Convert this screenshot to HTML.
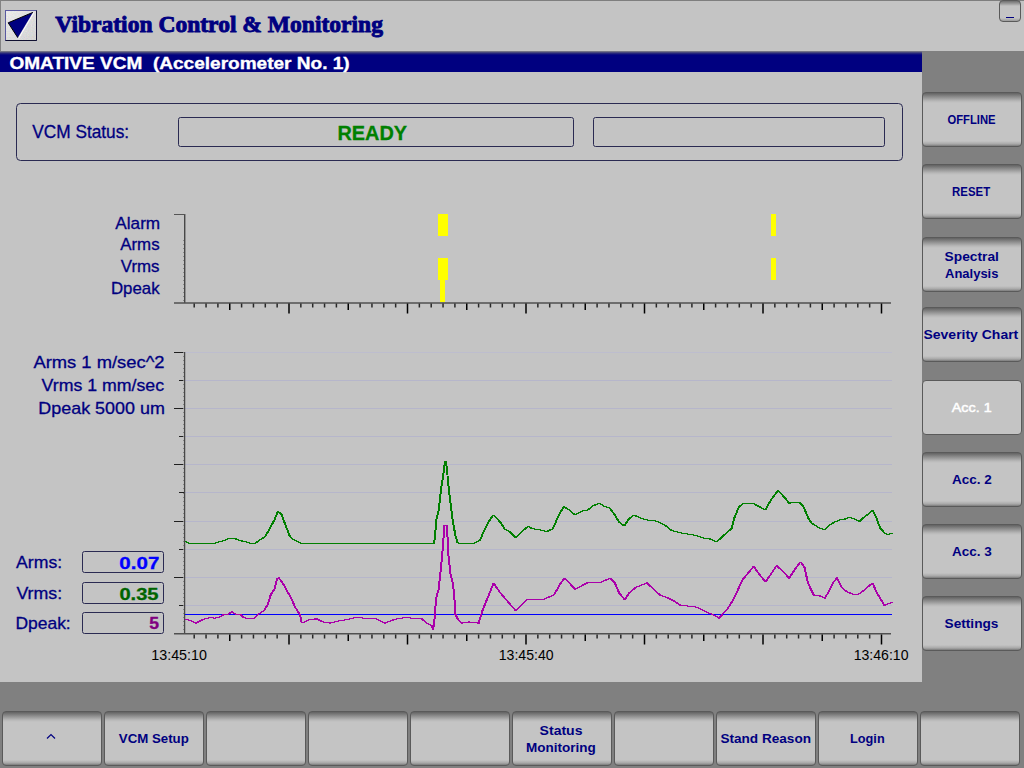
<!DOCTYPE html>
<html><head><meta charset="utf-8">
<style>
*{margin:0;padding:0;box-sizing:border-box}
html,body{width:1024px;height:768px;overflow:hidden;background:#808080;font-family:"Liberation Sans",sans-serif}
.a{position:absolute}
#hdr{left:0;top:0;width:1024px;height:51px;background:#c4c4c4;border-top:1px solid #7e7e7e;border-left:1px solid #828282}
#bar{left:0;top:51px;width:922px;height:21px;background:linear-gradient(#8a8a8a 0,#30307a 2px,#000080 4px,#000080 100%)}
#main{left:0;top:72px;width:922px;height:610px;background:#c4c4c4}
.btn{position:absolute;width:100px;height:55px;border:1px solid #5a5a5a;border-radius:4px;
 background:linear-gradient(#626262 0,#8e8e8e 4px,#b8b8b8 8px,#c4c4c4 10px,#c4c4c4 calc(100% - 5px),#a8a8a8 calc(100% - 2px),#7a7a7a 100%)}
.btn.sel{background:#c4c4c4}
#minb{left:999px;top:0;width:22px;height:22px;border:1px solid #5a5a5a;border-radius:4px;
 background:linear-gradient(#707070 0,#a0a0a0 3px,#c4c4c4 5px,#c4c4c4 calc(100% - 3px),#9a9a9a 100%)}
svg{position:absolute;left:0;top:0}
</style></head><body>
<div id="hdr" class="a"></div>
<div id="bar" class="a"></div>
<div id="main" class="a"></div>
<div id="minb" class="a"></div>
<div class="btn" style="left:922px;top:92px"></div>
<div class="btn" style="left:922px;top:164px"></div>
<div class="btn" style="left:922px;top:237px"></div>
<div class="btn" style="left:922px;top:307px"></div>
<div class="btn sel" style="left:922px;top:380px"></div>
<div class="btn" style="left:922px;top:452px"></div>
<div class="btn" style="left:922px;top:524px"></div>
<div class="btn" style="left:922px;top:596px"></div>
<div class="btn" style="left:2px;top:711px"></div>
<div class="btn" style="left:104px;top:711px"></div>
<div class="btn" style="left:206px;top:711px"></div>
<div class="btn" style="left:308px;top:711px"></div>
<div class="btn" style="left:410px;top:711px"></div>
<div class="btn" style="left:512px;top:711px"></div>
<div class="btn" style="left:614px;top:711px"></div>
<div class="btn" style="left:716px;top:711px"></div>
<div class="btn" style="left:818px;top:711px"></div>
<div class="btn" style="left:920px;top:711px"></div>
<svg width="1024" height="768" viewBox="0 0 1024 768">
<defs>
<linearGradient id="lg" x1="0" y1="0" x2="1" y2="1">
<stop offset="0" stop-color="#f4f4f4"/><stop offset="0.5" stop-color="#dcdcdc"/><stop offset="1" stop-color="#c8c8c8"/>
</linearGradient>
<filter id="nz" x="0" y="0" width="100%" height="100%">
<feTurbulence type="fractalNoise" baseFrequency="0.8" numOctaves="2" seed="3"/>
<feColorMatrix type="matrix" values="0.5 0 0 0 0.5  0 0.5 0 0 0.5  0 0 0.5 0 0.5  0 0 0 0 0.45"/>
</filter>
</defs>
<!-- logo -->
<rect x="5.5" y="10.5" width="31" height="30" fill="url(#lg)" stroke="#5a5aa0" stroke-width="1"/>
<rect x="6" y="11" width="30" height="29" filter="url(#nz)"/>
<path d="M36.5 10.5 V40.5 H5.5" fill="none" stroke="#101030" stroke-width="1"/>
<polygon points="8.2,22.8 32.9,12.4 17.8,37.7" fill="#000080"/>
<polyline points="32.9,12.4 8.2,22.8 17.8,37.7" fill="none" stroke="#000" stroke-width="1"/>
<line x1="33.8" y1="12.8" x2="18.7" y2="38.2" stroke="#ffffff" stroke-width="1"/>
<line x1="1006" y1="17.5" x2="1014" y2="17.5" stroke="#000080" stroke-width="1"/>
<!-- status panel -->
<g fill="none" stroke="#2a2a52" stroke-width="1">
<rect x="16.5" y="103.5" width="886" height="57" rx="4"/>
<rect x="178.5" y="117.5" width="395" height="29" rx="2"/>
<rect x="593.5" y="117.5" width="291" height="29" rx="2"/>
<rect x="82.5" y="551.5" width="81" height="21" rx="2"/>
<rect x="82.5" y="582.5" width="81" height="21" rx="2"/>
<rect x="82.5" y="612.5" width="81" height="21" rx="2"/>
</g>
<g shape-rendering="crispEdges">
<rect x="438" y="214" width="10" height="22" fill="#ffff00"/>
<rect x="438" y="258" width="10" height="22" fill="#ffff00"/>
<rect x="440" y="280" width="5" height="22" fill="#ffff00"/>
<rect x="771" y="214" width="5" height="22" fill="#ffff00"/>
<rect x="771" y="258" width="5" height="22" fill="#ffff00"/>
</g>
<rect x="183" y="240" width="1" height="1" fill="#8a8a8a"/>
<rect x="183" y="244" width="1" height="1" fill="#8a8a8a"/>
<rect x="183" y="248" width="1" height="1" fill="#8a8a8a"/>
<rect x="183" y="252" width="1" height="1" fill="#8a8a8a"/>
<rect x="183" y="256" width="1" height="1" fill="#8a8a8a"/>
<rect x="183" y="260" width="1" height="1" fill="#8a8a8a"/>
<rect x="183" y="264" width="1" height="1" fill="#8a8a8a"/>
<rect x="183" y="268" width="1" height="1" fill="#8a8a8a"/>
<rect x="183" y="272" width="1" height="1" fill="#8a8a8a"/>
<rect x="183" y="276" width="1" height="1" fill="#8a8a8a"/>
<rect x="183" y="280" width="1" height="1" fill="#8a8a8a"/>
<rect x="183" y="284" width="1" height="1" fill="#8a8a8a"/>
<rect x="183" y="288" width="1" height="1" fill="#8a8a8a"/>
<rect x="183" y="292" width="1" height="1" fill="#8a8a8a"/>
<rect x="183" y="296" width="1" height="1" fill="#8a8a8a"/>
<rect x="183" y="300" width="1" height="1" fill="#8a8a8a"/>
<line x1="184.7" y1="214" x2="184.7" y2="303" stroke="#484848" stroke-width="1.4"/>
<line x1="174" y1="214.5" x2="185" y2="214.5" stroke="#555" stroke-width="1"/>
<line x1="174" y1="303" x2="891" y2="303" stroke="#505050" stroke-width="1.6"/>
<line x1="194.20" y1="303.5" x2="194.20" y2="307.5" stroke="#282828" stroke-width="1.5"/>
<line x1="206.05" y1="303.5" x2="206.05" y2="307.5" stroke="#282828" stroke-width="1.5"/>
<line x1="217.90" y1="303.5" x2="217.90" y2="307.5" stroke="#282828" stroke-width="1.5"/>
<line x1="229.75" y1="303.5" x2="229.75" y2="310.0" stroke="#000" stroke-width="1.5"/>
<line x1="241.60" y1="303.5" x2="241.60" y2="307.5" stroke="#282828" stroke-width="1.5"/>
<line x1="253.45" y1="303.5" x2="253.45" y2="307.5" stroke="#282828" stroke-width="1.5"/>
<line x1="265.30" y1="303.5" x2="265.30" y2="307.5" stroke="#282828" stroke-width="1.5"/>
<line x1="277.15" y1="303.5" x2="277.15" y2="307.5" stroke="#282828" stroke-width="1.5"/>
<line x1="289.00" y1="303.5" x2="289.00" y2="313.5" stroke="#000" stroke-width="1.5"/>
<line x1="300.85" y1="303.5" x2="300.85" y2="307.5" stroke="#282828" stroke-width="1.5"/>
<line x1="312.70" y1="303.5" x2="312.70" y2="307.5" stroke="#282828" stroke-width="1.5"/>
<line x1="324.55" y1="303.5" x2="324.55" y2="307.5" stroke="#282828" stroke-width="1.5"/>
<line x1="336.40" y1="303.5" x2="336.40" y2="307.5" stroke="#282828" stroke-width="1.5"/>
<line x1="348.25" y1="303.5" x2="348.25" y2="310.0" stroke="#000" stroke-width="1.5"/>
<line x1="360.10" y1="303.5" x2="360.10" y2="307.5" stroke="#282828" stroke-width="1.5"/>
<line x1="371.95" y1="303.5" x2="371.95" y2="307.5" stroke="#282828" stroke-width="1.5"/>
<line x1="383.80" y1="303.5" x2="383.80" y2="307.5" stroke="#282828" stroke-width="1.5"/>
<line x1="395.65" y1="303.5" x2="395.65" y2="307.5" stroke="#282828" stroke-width="1.5"/>
<line x1="407.50" y1="303.5" x2="407.50" y2="313.5" stroke="#000" stroke-width="1.5"/>
<line x1="419.35" y1="303.5" x2="419.35" y2="307.5" stroke="#282828" stroke-width="1.5"/>
<line x1="431.20" y1="303.5" x2="431.20" y2="307.5" stroke="#282828" stroke-width="1.5"/>
<line x1="443.05" y1="303.5" x2="443.05" y2="307.5" stroke="#282828" stroke-width="1.5"/>
<line x1="454.90" y1="303.5" x2="454.90" y2="307.5" stroke="#282828" stroke-width="1.5"/>
<line x1="466.75" y1="303.5" x2="466.75" y2="310.0" stroke="#000" stroke-width="1.5"/>
<line x1="478.60" y1="303.5" x2="478.60" y2="307.5" stroke="#282828" stroke-width="1.5"/>
<line x1="490.45" y1="303.5" x2="490.45" y2="307.5" stroke="#282828" stroke-width="1.5"/>
<line x1="502.30" y1="303.5" x2="502.30" y2="307.5" stroke="#282828" stroke-width="1.5"/>
<line x1="514.15" y1="303.5" x2="514.15" y2="307.5" stroke="#282828" stroke-width="1.5"/>
<line x1="526.00" y1="303.5" x2="526.00" y2="313.5" stroke="#000" stroke-width="1.5"/>
<line x1="537.85" y1="303.5" x2="537.85" y2="307.5" stroke="#282828" stroke-width="1.5"/>
<line x1="549.70" y1="303.5" x2="549.70" y2="307.5" stroke="#282828" stroke-width="1.5"/>
<line x1="561.55" y1="303.5" x2="561.55" y2="307.5" stroke="#282828" stroke-width="1.5"/>
<line x1="573.40" y1="303.5" x2="573.40" y2="307.5" stroke="#282828" stroke-width="1.5"/>
<line x1="585.25" y1="303.5" x2="585.25" y2="310.0" stroke="#000" stroke-width="1.5"/>
<line x1="597.10" y1="303.5" x2="597.10" y2="307.5" stroke="#282828" stroke-width="1.5"/>
<line x1="608.95" y1="303.5" x2="608.95" y2="307.5" stroke="#282828" stroke-width="1.5"/>
<line x1="620.80" y1="303.5" x2="620.80" y2="307.5" stroke="#282828" stroke-width="1.5"/>
<line x1="632.65" y1="303.5" x2="632.65" y2="307.5" stroke="#282828" stroke-width="1.5"/>
<line x1="644.50" y1="303.5" x2="644.50" y2="313.5" stroke="#000" stroke-width="1.5"/>
<line x1="656.35" y1="303.5" x2="656.35" y2="307.5" stroke="#282828" stroke-width="1.5"/>
<line x1="668.20" y1="303.5" x2="668.20" y2="307.5" stroke="#282828" stroke-width="1.5"/>
<line x1="680.05" y1="303.5" x2="680.05" y2="307.5" stroke="#282828" stroke-width="1.5"/>
<line x1="691.90" y1="303.5" x2="691.90" y2="307.5" stroke="#282828" stroke-width="1.5"/>
<line x1="703.75" y1="303.5" x2="703.75" y2="310.0" stroke="#000" stroke-width="1.5"/>
<line x1="715.60" y1="303.5" x2="715.60" y2="307.5" stroke="#282828" stroke-width="1.5"/>
<line x1="727.45" y1="303.5" x2="727.45" y2="307.5" stroke="#282828" stroke-width="1.5"/>
<line x1="739.30" y1="303.5" x2="739.30" y2="307.5" stroke="#282828" stroke-width="1.5"/>
<line x1="751.15" y1="303.5" x2="751.15" y2="307.5" stroke="#282828" stroke-width="1.5"/>
<line x1="763.00" y1="303.5" x2="763.00" y2="313.5" stroke="#000" stroke-width="1.5"/>
<line x1="774.85" y1="303.5" x2="774.85" y2="307.5" stroke="#282828" stroke-width="1.5"/>
<line x1="786.70" y1="303.5" x2="786.70" y2="307.5" stroke="#282828" stroke-width="1.5"/>
<line x1="798.55" y1="303.5" x2="798.55" y2="307.5" stroke="#282828" stroke-width="1.5"/>
<line x1="810.40" y1="303.5" x2="810.40" y2="307.5" stroke="#282828" stroke-width="1.5"/>
<line x1="822.25" y1="303.5" x2="822.25" y2="310.0" stroke="#000" stroke-width="1.5"/>
<line x1="834.10" y1="303.5" x2="834.10" y2="307.5" stroke="#282828" stroke-width="1.5"/>
<line x1="845.95" y1="303.5" x2="845.95" y2="307.5" stroke="#282828" stroke-width="1.5"/>
<line x1="857.80" y1="303.5" x2="857.80" y2="307.5" stroke="#282828" stroke-width="1.5"/>
<line x1="869.65" y1="303.5" x2="869.65" y2="307.5" stroke="#282828" stroke-width="1.5"/>
<line x1="881.50" y1="303.5" x2="881.50" y2="313.5" stroke="#000" stroke-width="1.5"/>
<line x1="185" y1="352.5" x2="892" y2="352.5" stroke="#bdbdce" stroke-width="1"/>
<line x1="174" y1="352.5" x2="185" y2="352.5" stroke="#202020" stroke-width="1"/>
<line x1="185" y1="380.5" x2="892" y2="380.5" stroke="#b6b6cb" stroke-width="1"/>
<line x1="179" y1="380.5" x2="185" y2="380.5" stroke="#202020" stroke-width="1"/>
<line x1="185" y1="408.5" x2="892" y2="408.5" stroke="#b6b6cb" stroke-width="1"/>
<line x1="174" y1="408.5" x2="185" y2="408.5" stroke="#202020" stroke-width="1"/>
<line x1="185" y1="436.5" x2="892" y2="436.5" stroke="#b6b6cb" stroke-width="1"/>
<line x1="179" y1="436.5" x2="185" y2="436.5" stroke="#202020" stroke-width="1"/>
<line x1="185" y1="464.5" x2="892" y2="464.5" stroke="#b6b6cb" stroke-width="1"/>
<line x1="174" y1="464.5" x2="185" y2="464.5" stroke="#202020" stroke-width="1"/>
<line x1="185" y1="492.5" x2="892" y2="492.5" stroke="#b6b6cb" stroke-width="1"/>
<line x1="179" y1="492.5" x2="185" y2="492.5" stroke="#202020" stroke-width="1"/>
<line x1="185" y1="521.5" x2="892" y2="521.5" stroke="#b6b6cb" stroke-width="1"/>
<line x1="174" y1="521.5" x2="185" y2="521.5" stroke="#202020" stroke-width="1"/>
<line x1="185" y1="549.5" x2="892" y2="549.5" stroke="#b6b6cb" stroke-width="1"/>
<line x1="179" y1="549.5" x2="185" y2="549.5" stroke="#202020" stroke-width="1"/>
<line x1="185" y1="577.5" x2="892" y2="577.5" stroke="#b6b6cb" stroke-width="1"/>
<line x1="174" y1="577.5" x2="185" y2="577.5" stroke="#202020" stroke-width="1"/>
<line x1="185" y1="605.5" x2="892" y2="605.5" stroke="#b6b6cb" stroke-width="1"/>
<line x1="179" y1="605.5" x2="185" y2="605.5" stroke="#202020" stroke-width="1"/>
<rect x="183" y="352" width="1" height="1" fill="#8a8a8a"/>
<rect x="183" y="356" width="1" height="1" fill="#8a8a8a"/>
<rect x="183" y="360" width="1" height="1" fill="#8a8a8a"/>
<rect x="183" y="364" width="1" height="1" fill="#8a8a8a"/>
<rect x="183" y="368" width="1" height="1" fill="#8a8a8a"/>
<rect x="183" y="372" width="1" height="1" fill="#8a8a8a"/>
<rect x="183" y="376" width="1" height="1" fill="#8a8a8a"/>
<rect x="183" y="380" width="1" height="1" fill="#8a8a8a"/>
<rect x="183" y="384" width="1" height="1" fill="#8a8a8a"/>
<rect x="183" y="388" width="1" height="1" fill="#8a8a8a"/>
<rect x="183" y="392" width="1" height="1" fill="#8a8a8a"/>
<rect x="183" y="396" width="1" height="1" fill="#8a8a8a"/>
<rect x="183" y="400" width="1" height="1" fill="#8a8a8a"/>
<rect x="183" y="404" width="1" height="1" fill="#8a8a8a"/>
<rect x="183" y="408" width="1" height="1" fill="#8a8a8a"/>
<rect x="183" y="412" width="1" height="1" fill="#8a8a8a"/>
<rect x="183" y="416" width="1" height="1" fill="#8a8a8a"/>
<rect x="183" y="420" width="1" height="1" fill="#8a8a8a"/>
<rect x="183" y="424" width="1" height="1" fill="#8a8a8a"/>
<rect x="183" y="428" width="1" height="1" fill="#8a8a8a"/>
<rect x="183" y="432" width="1" height="1" fill="#8a8a8a"/>
<rect x="183" y="436" width="1" height="1" fill="#8a8a8a"/>
<rect x="183" y="440" width="1" height="1" fill="#8a8a8a"/>
<rect x="183" y="444" width="1" height="1" fill="#8a8a8a"/>
<rect x="183" y="448" width="1" height="1" fill="#8a8a8a"/>
<rect x="183" y="452" width="1" height="1" fill="#8a8a8a"/>
<rect x="183" y="456" width="1" height="1" fill="#8a8a8a"/>
<rect x="183" y="460" width="1" height="1" fill="#8a8a8a"/>
<rect x="183" y="464" width="1" height="1" fill="#8a8a8a"/>
<rect x="183" y="468" width="1" height="1" fill="#8a8a8a"/>
<rect x="183" y="472" width="1" height="1" fill="#8a8a8a"/>
<rect x="183" y="476" width="1" height="1" fill="#8a8a8a"/>
<rect x="183" y="480" width="1" height="1" fill="#8a8a8a"/>
<rect x="183" y="484" width="1" height="1" fill="#8a8a8a"/>
<rect x="183" y="488" width="1" height="1" fill="#8a8a8a"/>
<rect x="183" y="493" width="1" height="1" fill="#8a8a8a"/>
<rect x="183" y="497" width="1" height="1" fill="#8a8a8a"/>
<rect x="183" y="501" width="1" height="1" fill="#8a8a8a"/>
<rect x="183" y="505" width="1" height="1" fill="#8a8a8a"/>
<rect x="183" y="509" width="1" height="1" fill="#8a8a8a"/>
<rect x="183" y="513" width="1" height="1" fill="#8a8a8a"/>
<rect x="183" y="517" width="1" height="1" fill="#8a8a8a"/>
<rect x="183" y="521" width="1" height="1" fill="#8a8a8a"/>
<rect x="183" y="525" width="1" height="1" fill="#8a8a8a"/>
<rect x="183" y="529" width="1" height="1" fill="#8a8a8a"/>
<rect x="183" y="533" width="1" height="1" fill="#8a8a8a"/>
<rect x="183" y="537" width="1" height="1" fill="#8a8a8a"/>
<rect x="183" y="541" width="1" height="1" fill="#8a8a8a"/>
<rect x="183" y="545" width="1" height="1" fill="#8a8a8a"/>
<rect x="183" y="549" width="1" height="1" fill="#8a8a8a"/>
<rect x="183" y="553" width="1" height="1" fill="#8a8a8a"/>
<rect x="183" y="557" width="1" height="1" fill="#8a8a8a"/>
<rect x="183" y="561" width="1" height="1" fill="#8a8a8a"/>
<rect x="183" y="565" width="1" height="1" fill="#8a8a8a"/>
<rect x="183" y="569" width="1" height="1" fill="#8a8a8a"/>
<rect x="183" y="573" width="1" height="1" fill="#8a8a8a"/>
<rect x="183" y="577" width="1" height="1" fill="#8a8a8a"/>
<rect x="183" y="581" width="1" height="1" fill="#8a8a8a"/>
<rect x="183" y="585" width="1" height="1" fill="#8a8a8a"/>
<rect x="183" y="589" width="1" height="1" fill="#8a8a8a"/>
<rect x="183" y="593" width="1" height="1" fill="#8a8a8a"/>
<rect x="183" y="597" width="1" height="1" fill="#8a8a8a"/>
<rect x="183" y="601" width="1" height="1" fill="#8a8a8a"/>
<rect x="183" y="605" width="1" height="1" fill="#8a8a8a"/>
<rect x="183" y="609" width="1" height="1" fill="#8a8a8a"/>
<rect x="183" y="613" width="1" height="1" fill="#8a8a8a"/>
<rect x="183" y="617" width="1" height="1" fill="#8a8a8a"/>
<rect x="183" y="621" width="1" height="1" fill="#8a8a8a"/>
<rect x="183" y="625" width="1" height="1" fill="#8a8a8a"/>
<rect x="183" y="629" width="1" height="1" fill="#8a8a8a"/>
<line x1="184.6" y1="352" x2="184.6" y2="634" stroke="#484848" stroke-width="1.3"/>
<line x1="174" y1="633.8" x2="891" y2="633.8" stroke="#505050" stroke-width="1.6"/>
<line x1="194.20" y1="634.5" x2="194.20" y2="638.5" stroke="#282828" stroke-width="1.5"/>
<line x1="206.05" y1="634.5" x2="206.05" y2="638.5" stroke="#282828" stroke-width="1.5"/>
<line x1="217.90" y1="634.5" x2="217.90" y2="638.5" stroke="#282828" stroke-width="1.5"/>
<line x1="229.75" y1="634.5" x2="229.75" y2="641.0" stroke="#000" stroke-width="1.5"/>
<line x1="241.60" y1="634.5" x2="241.60" y2="638.5" stroke="#282828" stroke-width="1.5"/>
<line x1="253.45" y1="634.5" x2="253.45" y2="638.5" stroke="#282828" stroke-width="1.5"/>
<line x1="265.30" y1="634.5" x2="265.30" y2="638.5" stroke="#282828" stroke-width="1.5"/>
<line x1="277.15" y1="634.5" x2="277.15" y2="638.5" stroke="#282828" stroke-width="1.5"/>
<line x1="289.00" y1="634.5" x2="289.00" y2="644.5" stroke="#000" stroke-width="1.5"/>
<line x1="300.85" y1="634.5" x2="300.85" y2="638.5" stroke="#282828" stroke-width="1.5"/>
<line x1="312.70" y1="634.5" x2="312.70" y2="638.5" stroke="#282828" stroke-width="1.5"/>
<line x1="324.55" y1="634.5" x2="324.55" y2="638.5" stroke="#282828" stroke-width="1.5"/>
<line x1="336.40" y1="634.5" x2="336.40" y2="638.5" stroke="#282828" stroke-width="1.5"/>
<line x1="348.25" y1="634.5" x2="348.25" y2="641.0" stroke="#000" stroke-width="1.5"/>
<line x1="360.10" y1="634.5" x2="360.10" y2="638.5" stroke="#282828" stroke-width="1.5"/>
<line x1="371.95" y1="634.5" x2="371.95" y2="638.5" stroke="#282828" stroke-width="1.5"/>
<line x1="383.80" y1="634.5" x2="383.80" y2="638.5" stroke="#282828" stroke-width="1.5"/>
<line x1="395.65" y1="634.5" x2="395.65" y2="638.5" stroke="#282828" stroke-width="1.5"/>
<line x1="407.50" y1="634.5" x2="407.50" y2="644.5" stroke="#000" stroke-width="1.5"/>
<line x1="419.35" y1="634.5" x2="419.35" y2="638.5" stroke="#282828" stroke-width="1.5"/>
<line x1="431.20" y1="634.5" x2="431.20" y2="638.5" stroke="#282828" stroke-width="1.5"/>
<line x1="443.05" y1="634.5" x2="443.05" y2="638.5" stroke="#282828" stroke-width="1.5"/>
<line x1="454.90" y1="634.5" x2="454.90" y2="638.5" stroke="#282828" stroke-width="1.5"/>
<line x1="466.75" y1="634.5" x2="466.75" y2="641.0" stroke="#000" stroke-width="1.5"/>
<line x1="478.60" y1="634.5" x2="478.60" y2="638.5" stroke="#282828" stroke-width="1.5"/>
<line x1="490.45" y1="634.5" x2="490.45" y2="638.5" stroke="#282828" stroke-width="1.5"/>
<line x1="502.30" y1="634.5" x2="502.30" y2="638.5" stroke="#282828" stroke-width="1.5"/>
<line x1="514.15" y1="634.5" x2="514.15" y2="638.5" stroke="#282828" stroke-width="1.5"/>
<line x1="526.00" y1="634.5" x2="526.00" y2="644.5" stroke="#000" stroke-width="1.5"/>
<line x1="537.85" y1="634.5" x2="537.85" y2="638.5" stroke="#282828" stroke-width="1.5"/>
<line x1="549.70" y1="634.5" x2="549.70" y2="638.5" stroke="#282828" stroke-width="1.5"/>
<line x1="561.55" y1="634.5" x2="561.55" y2="638.5" stroke="#282828" stroke-width="1.5"/>
<line x1="573.40" y1="634.5" x2="573.40" y2="638.5" stroke="#282828" stroke-width="1.5"/>
<line x1="585.25" y1="634.5" x2="585.25" y2="641.0" stroke="#000" stroke-width="1.5"/>
<line x1="597.10" y1="634.5" x2="597.10" y2="638.5" stroke="#282828" stroke-width="1.5"/>
<line x1="608.95" y1="634.5" x2="608.95" y2="638.5" stroke="#282828" stroke-width="1.5"/>
<line x1="620.80" y1="634.5" x2="620.80" y2="638.5" stroke="#282828" stroke-width="1.5"/>
<line x1="632.65" y1="634.5" x2="632.65" y2="638.5" stroke="#282828" stroke-width="1.5"/>
<line x1="644.50" y1="634.5" x2="644.50" y2="644.5" stroke="#000" stroke-width="1.5"/>
<line x1="656.35" y1="634.5" x2="656.35" y2="638.5" stroke="#282828" stroke-width="1.5"/>
<line x1="668.20" y1="634.5" x2="668.20" y2="638.5" stroke="#282828" stroke-width="1.5"/>
<line x1="680.05" y1="634.5" x2="680.05" y2="638.5" stroke="#282828" stroke-width="1.5"/>
<line x1="691.90" y1="634.5" x2="691.90" y2="638.5" stroke="#282828" stroke-width="1.5"/>
<line x1="703.75" y1="634.5" x2="703.75" y2="641.0" stroke="#000" stroke-width="1.5"/>
<line x1="715.60" y1="634.5" x2="715.60" y2="638.5" stroke="#282828" stroke-width="1.5"/>
<line x1="727.45" y1="634.5" x2="727.45" y2="638.5" stroke="#282828" stroke-width="1.5"/>
<line x1="739.30" y1="634.5" x2="739.30" y2="638.5" stroke="#282828" stroke-width="1.5"/>
<line x1="751.15" y1="634.5" x2="751.15" y2="638.5" stroke="#282828" stroke-width="1.5"/>
<line x1="763.00" y1="634.5" x2="763.00" y2="644.5" stroke="#000" stroke-width="1.5"/>
<line x1="774.85" y1="634.5" x2="774.85" y2="638.5" stroke="#282828" stroke-width="1.5"/>
<line x1="786.70" y1="634.5" x2="786.70" y2="638.5" stroke="#282828" stroke-width="1.5"/>
<line x1="798.55" y1="634.5" x2="798.55" y2="638.5" stroke="#282828" stroke-width="1.5"/>
<line x1="810.40" y1="634.5" x2="810.40" y2="638.5" stroke="#282828" stroke-width="1.5"/>
<line x1="822.25" y1="634.5" x2="822.25" y2="641.0" stroke="#000" stroke-width="1.5"/>
<line x1="834.10" y1="634.5" x2="834.10" y2="638.5" stroke="#282828" stroke-width="1.5"/>
<line x1="845.95" y1="634.5" x2="845.95" y2="638.5" stroke="#282828" stroke-width="1.5"/>
<line x1="857.80" y1="634.5" x2="857.80" y2="638.5" stroke="#282828" stroke-width="1.5"/>
<line x1="869.65" y1="634.5" x2="869.65" y2="638.5" stroke="#282828" stroke-width="1.5"/>
<line x1="881.50" y1="634.5" x2="881.50" y2="644.5" stroke="#000" stroke-width="1.5"/>
<line x1="185" y1="614.5" x2="892" y2="614.5" stroke="#0000ff" stroke-width="1"/>
<polyline transform="translate(0,0)" points="184.6,541.6 189.1,543.4 213.7,543.4 219.2,541.6 223.7,540.5 228.3,538.3 233.8,538.3 239.2,540.5 245.6,541.9 250.2,543.4 254.7,543.4 258.4,540.5 264.8,536.5 269.3,528.3 273.9,520 277.5,511.3 281.2,514.6 284.8,524.6 289.4,536.5 292.1,539.2 301.2,543.4 433.5,543.5 434.5,536 436,519.4 438,511 439,503 441,486 443.5,470 444.5,461 445.5,461 446.5,470 448,486 450,503 452,519.4 455,536 457,542.5 459,543.5 473.3,543.5 479.5,540.3 483.2,531.6 488.1,521.7 493.1,514.8 500.5,523 504.2,529.1 509.1,531.6 515.3,537.8 522.8,530.4 527.7,526.2 531.4,528.7 538.8,529.6 546.2,531.6 552.4,528.7 558.6,514.3 563.5,506.8 568.9,509.9 574.4,515 582.2,511 586.6,510.5 592.1,506.1 598.8,503.2 604.3,506.6 608.7,507.7 613.2,513.2 618.7,522.1 623.8,526 627.6,519.8 633.1,515 640.9,518.3 648.6,520.5 655.3,521 660.8,523.2 666.3,526.5 670.8,530.3 679.6,532.7 688.5,534.2 696.6,535.8 703.3,538.2 708.8,538.7 716.1,542 723.2,535.4 731,528.7 734.3,516.5 738.7,506.6 743.2,503.2 753.1,503.7 758.7,506.6 764.9,509.9 769.8,501 777.5,490.4 785.3,498.8 788.6,503.2 798.6,502.1 803,506.6 807.5,517.6 811.1,523.1 819.9,528.7 824.4,529.3 828.8,525.3 834.3,522 839.8,519.8 844.3,519.1 848.7,517.2 854.2,519.1 859.3,521.4 863.1,517.6 867.5,514.3 872,509.8 875.3,516.5 879.7,528 884.1,533.1 887.4,534.6 891.9,533.1" fill="none" stroke="#008000" stroke-width="1" shape-rendering="crispEdges"/>
<polyline transform="translate(1,0)" points="184.6,541.6 189.1,543.4 213.7,543.4 219.2,541.6 223.7,540.5 228.3,538.3 233.8,538.3 239.2,540.5 245.6,541.9 250.2,543.4 254.7,543.4 258.4,540.5 264.8,536.5 269.3,528.3 273.9,520 277.5,511.3 281.2,514.6 284.8,524.6 289.4,536.5 292.1,539.2 301.2,543.4 433.5,543.5 434.5,536 436,519.4 438,511 439,503 441,486 443.5,470 444.5,461 445.5,461 446.5,470 448,486 450,503 452,519.4 455,536 457,542.5 459,543.5 473.3,543.5 479.5,540.3 483.2,531.6 488.1,521.7 493.1,514.8 500.5,523 504.2,529.1 509.1,531.6 515.3,537.8 522.8,530.4 527.7,526.2 531.4,528.7 538.8,529.6 546.2,531.6 552.4,528.7 558.6,514.3 563.5,506.8 568.9,509.9 574.4,515 582.2,511 586.6,510.5 592.1,506.1 598.8,503.2 604.3,506.6 608.7,507.7 613.2,513.2 618.7,522.1 623.8,526 627.6,519.8 633.1,515 640.9,518.3 648.6,520.5 655.3,521 660.8,523.2 666.3,526.5 670.8,530.3 679.6,532.7 688.5,534.2 696.6,535.8 703.3,538.2 708.8,538.7 716.1,542 723.2,535.4 731,528.7 734.3,516.5 738.7,506.6 743.2,503.2 753.1,503.7 758.7,506.6 764.9,509.9 769.8,501 777.5,490.4 785.3,498.8 788.6,503.2 798.6,502.1 803,506.6 807.5,517.6 811.1,523.1 819.9,528.7 824.4,529.3 828.8,525.3 834.3,522 839.8,519.8 844.3,519.1 848.7,517.2 854.2,519.1 859.3,521.4 863.1,517.6 867.5,514.3 872,509.8 875.3,516.5 879.7,528 884.1,533.1 887.4,534.6 891.9,533.1" fill="none" stroke="#008000" stroke-width="1" shape-rendering="crispEdges"/>
<polyline transform="translate(0,0)" points="184.6,619.4 189.1,620.3 195.5,623 202.8,619.4 210,617.6 213.7,618.1 218.3,617.6 222.8,614.8 228.3,613.9 231.4,611.6 234.3,613.9 240.2,614.8 242.9,617.6 247.4,618.5 253.8,618.1 257.5,614.5 263.8,610.3 267.5,603.9 270.2,594.8 273.9,589.3 276.6,578.4 278.4,578 282.1,582.9 285.7,589.3 290.3,597.5 294.8,607.5 299.4,614.5 301.2,623 305.8,621.2 309.4,619.4 314,619.4 315,618.2 322.4,621.9 329.8,623.1 339.7,620.7 347.1,619.4 354.5,617.7 366.9,618.2 374.3,618.2 384.2,623.1 394.1,619.4 404,617.7 413.9,618.2 421.3,618.9 426.3,623.1 431.4,626 432.7,629 434,619 435.7,598 438,590 439.5,577.3 441.5,557.2 443,538 444,525 446,525 447,536.5 448,555.8 450,574.4 452,581.6 453.5,593 455,614.6 457.2,618.9 459.4,621.7 461,623.2 468.3,621.9 478.2,623.1 481.9,610.8 486.9,598.4 493.1,583.1 499.3,592.2 506.7,600.9 515.3,610.8 526.5,599.6 543.8,599.1 553.7,594.7 559.9,583.6 564,578.1 568.9,583 574.4,589.2 582.2,585.2 586.6,583 599.9,582.5 609.8,578.1 614.3,583 618.7,593 624.2,599.6 628.7,593 635.3,587.4 646.4,583 650.8,587 659.7,595.2 666.3,597.4 673,600.7 680.7,605.8 692.9,606.2 698.9,608.5 707.7,612.9 712.2,614.4 718.4,618 726.6,609.6 732.1,600.7 736.5,591.8 742.1,579.7 753.1,566.4 758.7,574.1 764.9,581.9 769.8,575.2 776,565.7 783,571.9 788.6,578.1 794.1,569.7 800.1,561.9 804.1,567.5 807.4,583 810,588.4 813.3,595.1 818.8,595.7 824.4,598 828.8,590.7 833.2,581.8 836.5,578 841,587.3 846.5,591.8 852,594 857.6,594.4 863.1,590.7 872,582.9 876.4,592.9 884.1,605.5 887.4,604 891.9,602.4" fill="none" stroke="#aa00aa" stroke-width="1" shape-rendering="crispEdges"/>
<polyline transform="translate(1,0)" points="184.6,619.4 189.1,620.3 195.5,623 202.8,619.4 210,617.6 213.7,618.1 218.3,617.6 222.8,614.8 228.3,613.9 231.4,611.6 234.3,613.9 240.2,614.8 242.9,617.6 247.4,618.5 253.8,618.1 257.5,614.5 263.8,610.3 267.5,603.9 270.2,594.8 273.9,589.3 276.6,578.4 278.4,578 282.1,582.9 285.7,589.3 290.3,597.5 294.8,607.5 299.4,614.5 301.2,623 305.8,621.2 309.4,619.4 314,619.4 315,618.2 322.4,621.9 329.8,623.1 339.7,620.7 347.1,619.4 354.5,617.7 366.9,618.2 374.3,618.2 384.2,623.1 394.1,619.4 404,617.7 413.9,618.2 421.3,618.9 426.3,623.1 431.4,626 432.7,629 434,619 435.7,598 438,590 439.5,577.3 441.5,557.2 443,538 444,525 446,525 447,536.5 448,555.8 450,574.4 452,581.6 453.5,593 455,614.6 457.2,618.9 459.4,621.7 461,623.2 468.3,621.9 478.2,623.1 481.9,610.8 486.9,598.4 493.1,583.1 499.3,592.2 506.7,600.9 515.3,610.8 526.5,599.6 543.8,599.1 553.7,594.7 559.9,583.6 564,578.1 568.9,583 574.4,589.2 582.2,585.2 586.6,583 599.9,582.5 609.8,578.1 614.3,583 618.7,593 624.2,599.6 628.7,593 635.3,587.4 646.4,583 650.8,587 659.7,595.2 666.3,597.4 673,600.7 680.7,605.8 692.9,606.2 698.9,608.5 707.7,612.9 712.2,614.4 718.4,618 726.6,609.6 732.1,600.7 736.5,591.8 742.1,579.7 753.1,566.4 758.7,574.1 764.9,581.9 769.8,575.2 776,565.7 783,571.9 788.6,578.1 794.1,569.7 800.1,561.9 804.1,567.5 807.4,583 810,588.4 813.3,595.1 818.8,595.7 824.4,598 828.8,590.7 833.2,581.8 836.5,578 841,587.3 846.5,591.8 852,594 857.6,594.4 863.1,590.7 872,582.9 876.4,592.9 884.1,605.5 887.4,604 891.9,602.4" fill="none" stroke="#aa00aa" stroke-width="1" shape-rendering="crispEdges"/>
<path d="M47 738.5 L51 734.5 L55 738.5" fill="none" stroke="#000080" stroke-width="1.2"/>
<text x="55.26" y="32.10" font-family="Liberation Serif" font-weight="bold" font-size="23.60" fill="#000080" stroke="#000080" stroke-width="0.9" textLength="327.74" lengthAdjust="spacingAndGlyphs">Vibration Control &amp; Monitoring</text>
<text x="9.44" y="68.70" font-family="Liberation Sans" font-weight="bold" font-size="16.86" fill="#ffffff" stroke="#ffffff" stroke-width="0.35" textLength="340.28" lengthAdjust="spacingAndGlyphs">OMATIVE VCM &#160;(Accelerometer No. 1)</text>
<text x="32.30" y="137.90" font-family="Liberation Sans" font-weight="normal" font-size="17.97" fill="#000080" stroke="#000080" stroke-width="0.3" textLength="96.82" lengthAdjust="spacingAndGlyphs">VCM Status:</text>
<text x="337.41" y="140.00" font-family="Liberation Sans" font-weight="bold" font-size="20.57" fill="#008000" stroke="#008000" stroke-width="0.3" textLength="69.63" lengthAdjust="spacingAndGlyphs">READY</text>
<text x="115.30" y="228.80" font-family="Liberation Sans" font-weight="normal" font-size="17.00" fill="#000080" stroke="#000080" stroke-width="0.3" textLength="44.88" lengthAdjust="spacingAndGlyphs">Alarm</text>
<text x="120.20" y="250.40" font-family="Liberation Sans" font-weight="normal" font-size="17.00" fill="#000080" stroke="#000080" stroke-width="0.3" textLength="39.41" lengthAdjust="spacingAndGlyphs">Arms</text>
<text x="120.80" y="272.10" font-family="Liberation Sans" font-weight="normal" font-size="17.00" fill="#000080" stroke="#000080" stroke-width="0.3" textLength="38.71" lengthAdjust="spacingAndGlyphs">Vrms</text>
<text x="110.95" y="294.40" font-family="Liberation Sans" font-weight="normal" font-size="17.00" fill="#000080" stroke="#000080" stroke-width="0.3" textLength="48.68" lengthAdjust="spacingAndGlyphs">Dpeak</text>
<text x="33.40" y="367.80" font-family="Liberation Sans" font-weight="normal" font-size="17.00" fill="#000080" stroke="#000080" stroke-width="0.3" textLength="131.15" lengthAdjust="spacingAndGlyphs">Arms 1 m/sec^2</text>
<text x="41.60" y="390.70" font-family="Liberation Sans" font-weight="normal" font-size="17.00" fill="#000080" stroke="#000080" stroke-width="0.3" textLength="122.45" lengthAdjust="spacingAndGlyphs">Vrms 1 mm/sec</text>
<text x="38.37" y="413.60" font-family="Liberation Sans" font-weight="normal" font-size="17.00" fill="#000080" stroke="#000080" stroke-width="0.3" textLength="126.46" lengthAdjust="spacingAndGlyphs">Dpeak 5000 um</text>
<text x="16.10" y="567.70" font-family="Liberation Sans" font-weight="normal" font-size="17.00" fill="#000080" stroke="#000080" stroke-width="0.3" textLength="46.05" lengthAdjust="spacingAndGlyphs">Arms:</text>
<text x="16.40" y="598.60" font-family="Liberation Sans" font-weight="normal" font-size="17.00" fill="#000080" stroke="#000080" stroke-width="0.3" textLength="45.76" lengthAdjust="spacingAndGlyphs">Vrms:</text>
<text x="15.40" y="628.90" font-family="Liberation Sans" font-weight="normal" font-size="17.00" fill="#000080" stroke="#000080" stroke-width="0.3" textLength="55.33" lengthAdjust="spacingAndGlyphs">Dpeak:</text>
<text x="119.38" y="568.90" font-family="Liberation Sans" font-weight="bold" font-size="17.00" fill="#0000ff" stroke="#0000ff" stroke-width="0.3" textLength="39.96" lengthAdjust="spacingAndGlyphs">0.07</text>
<text x="119.40" y="599.80" font-family="Liberation Sans" font-weight="bold" font-size="17.00" fill="#006400" stroke="#006400" stroke-width="0.3" textLength="39.13" lengthAdjust="spacingAndGlyphs">0.35</text>
<text x="149.27" y="629.40" font-family="Liberation Sans" font-weight="bold" font-size="17.00" fill="#800080" stroke="#800080" stroke-width="0.3" textLength="9.79" lengthAdjust="spacingAndGlyphs">5</text>
<text x="151.30" y="659.80" font-family="Liberation Sans" font-weight="normal" font-size="14.00" fill="#000000" textLength="55.62" lengthAdjust="spacingAndGlyphs">13:45:10</text>
<text x="498.81" y="659.80" font-family="Liberation Sans" font-weight="normal" font-size="14.00" fill="#000000" textLength="54.79" lengthAdjust="spacingAndGlyphs">13:45:40</text>
<text x="853.71" y="659.80" font-family="Liberation Sans" font-weight="normal" font-size="14.00" fill="#000000" textLength="54.79" lengthAdjust="spacingAndGlyphs">13:46:10</text>
<text x="947.45" y="123.90" font-family="Liberation Sans" font-weight="bold" font-size="12.20" fill="#000080" textLength="48.07" lengthAdjust="spacingAndGlyphs">OFFLINE</text>
<text x="952.12" y="195.80" font-family="Liberation Sans" font-weight="bold" font-size="12.20" fill="#000080" textLength="37.99" lengthAdjust="spacingAndGlyphs">RESET</text>
<text x="944.62" y="260.80" font-family="Liberation Sans" font-weight="bold" font-size="12.20" fill="#000080" textLength="54.31" lengthAdjust="spacingAndGlyphs">Spectral</text>
<text x="945.04" y="277.60" font-family="Liberation Sans" font-weight="bold" font-size="12.20" fill="#000080" textLength="53.43" lengthAdjust="spacingAndGlyphs">Analysis</text>
<text x="923.52" y="338.60" font-family="Liberation Sans" font-weight="bold" font-size="12.20" fill="#000080" textLength="94.72" lengthAdjust="spacingAndGlyphs">Severity Chart</text>
<text x="951.80" y="412.00" font-family="Liberation Sans" font-weight="normal" font-size="12.20" fill="#ffffff" stroke="#ffffff" stroke-width="0.45" textLength="39.86" lengthAdjust="spacingAndGlyphs">Acc. 1</text>
<text x="952.03" y="484.00" font-family="Liberation Sans" font-weight="bold" font-size="12.20" fill="#000080" textLength="39.86" lengthAdjust="spacingAndGlyphs">Acc. 2</text>
<text x="952.03" y="556.00" font-family="Liberation Sans" font-weight="bold" font-size="12.20" fill="#000080" textLength="39.86" lengthAdjust="spacingAndGlyphs">Acc. 3</text>
<text x="944.53" y="627.80" font-family="Liberation Sans" font-weight="bold" font-size="12.20" fill="#000080" textLength="53.97" lengthAdjust="spacingAndGlyphs">Settings</text>
<text x="118.80" y="742.60" font-family="Liberation Sans" font-weight="bold" font-size="12.20" fill="#000080" textLength="69.94" lengthAdjust="spacingAndGlyphs">VCM Setup</text>
<text x="539.62" y="734.90" font-family="Liberation Sans" font-weight="bold" font-size="12.20" fill="#000080" textLength="42.89" lengthAdjust="spacingAndGlyphs">Status</text>
<text x="526.09" y="751.60" font-family="Liberation Sans" font-weight="bold" font-size="12.20" fill="#000080" textLength="69.73" lengthAdjust="spacingAndGlyphs">Monitoring</text>
<text x="720.43" y="742.60" font-family="Liberation Sans" font-weight="bold" font-size="12.20" fill="#000080" textLength="90.60" lengthAdjust="spacingAndGlyphs">Stand Reason</text>
<text x="850.04" y="742.90" font-family="Liberation Sans" font-weight="bold" font-size="12.20" fill="#000080" textLength="34.64" lengthAdjust="spacingAndGlyphs">Login</text>
</svg>
</body></html>
